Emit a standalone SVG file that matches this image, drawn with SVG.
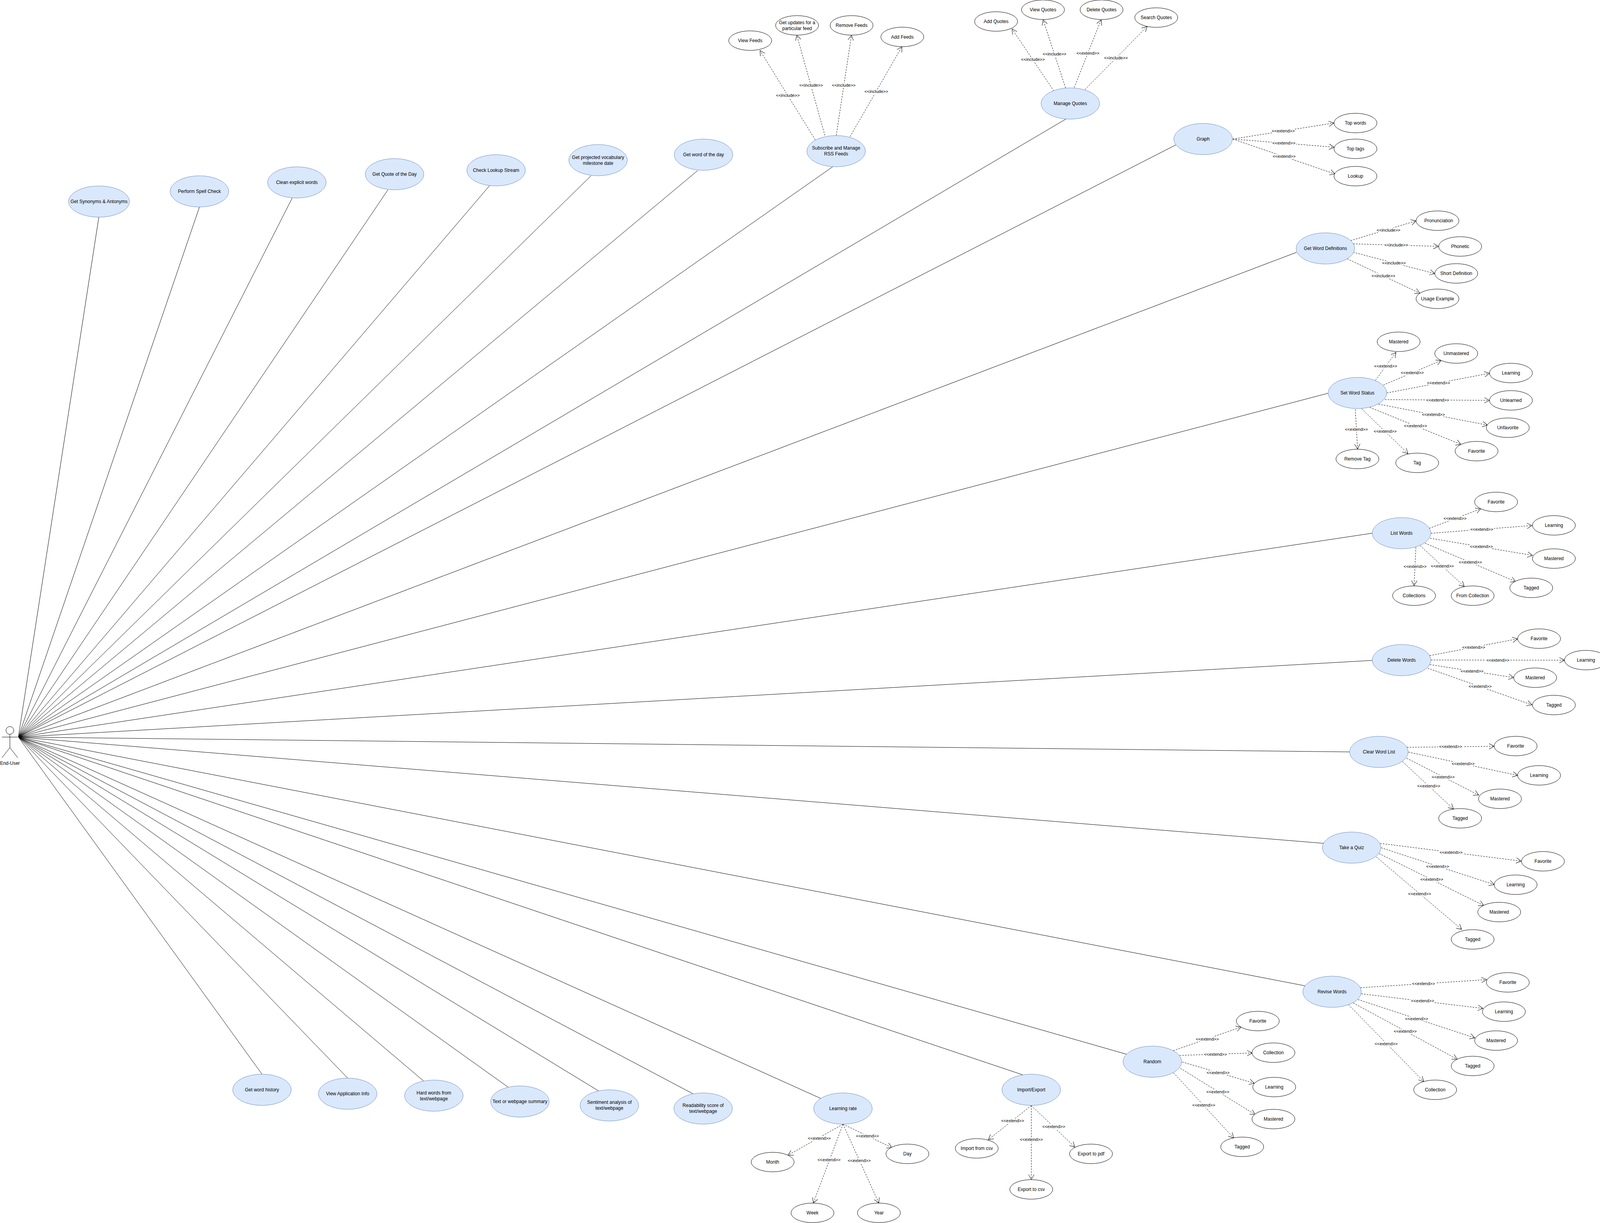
<svg xmlns="http://www.w3.org/2000/svg" width="4116" height="3131" viewBox="0 0 4116 3131">
<style>
text{font-family:"Liberation Sans",Arial,sans-serif;font-size:12px;fill:#000;text-anchor:middle}
.uc{fill:#dae8fc;stroke:#6c8ebf;stroke-width:1}
.sub{fill:#fff;stroke:#000;stroke-width:1}
.assoc{fill:none;stroke:#000;stroke-width:1}
.dep{fill:none;stroke:#000;stroke-width:1;stroke-dasharray:4 3;marker-end:url(#open)}
.lbl{font-size:11px;stroke:#fff;stroke-width:6px;paint-order:stroke;stroke-linejoin:round}
</style>
<defs>
<marker id="open" markerUnits="userSpaceOnUse" markerWidth="30" markerHeight="30" refX="20" refY="15" orient="auto">
<path d="M7,8 L20,15 L7,22" fill="none" stroke="#000" stroke-width="1" stroke-dasharray="none"/>
</marker>
</defs>
<rect width="4116" height="3131" fill="#fff"/>
<g id="connectors">
<g id="associations" class="assoc">
<line x1="47" y1="1887" x2="253" y2="556"/>
<line x1="47" y1="1887" x2="510.6" y2="530"/>
<line x1="47" y1="1887" x2="748" y2="507"/>
<line x1="47" y1="1887" x2="993" y2="486"/>
<line x1="47" y1="1887" x2="1253.6" y2="475"/>
<line x1="47" y1="1887" x2="1513" y2="450"/>
<line x1="47" y1="1887" x2="1786" y2="436.7"/>
<line x1="47" y1="1887" x2="2131.6" y2="427"/>
<line x1="47" y1="1887" x2="2730" y2="304"/>
<line x1="47" y1="1887" x2="3010" y2="371"/>
<line x1="47" y1="1887" x2="3319" y2="646"/>
<line x1="47" y1="1887" x2="3400.4" y2="1006.6"/>
<line x1="47" y1="1887" x2="3513" y2="1365"/>
<line x1="47" y1="1887" x2="3513" y2="1690.7"/>
<line x1="47" y1="1887" x2="3455.6" y2="1925"/>
<line x1="47" y1="1887" x2="3388.5" y2="2159"/>
<line x1="47" y1="1887" x2="3342" y2="2524"/>
<line x1="47" y1="1887" x2="2884" y2="2699"/>
<line x1="47" y1="1887" x2="2619" y2="2752"/>
<line x1="47" y1="1887" x2="2101" y2="2812"/>
<line x1="47" y1="1887" x2="1775" y2="2800.7"/>
<line x1="47" y1="1887" x2="1532.6" y2="2793"/>
<line x1="47" y1="1887" x2="1301.8" y2="2784"/>
<line x1="47" y1="1887" x2="1085" y2="2768"/>
<line x1="47" y1="1887" x2="890" y2="2760"/>
<line x1="47" y1="1887" x2="670.7" y2="2750"/>
</g>
<g id="dependencies">
<line class="dep" x1="2087" y1="358" x2="1945.7" y2="129.3"/>
<line class="dep" x1="2111.7" y1="346.7" x2="2039.8" y2="90"/>
<line class="dep" x1="2140.8" y1="346.7" x2="2179.8" y2="90"/>
<line class="dep" x1="2176" y1="350" x2="2309" y2="119.3"/>
<line class="dep" x1="2698" y1="233" x2="2590.8" y2="74"/>
<line class="dep" x1="2727.8" y1="225" x2="2670.4" y2="50.7"/>
<line class="dep" x1="2750" y1="224" x2="2818.9" y2="50.7"/>
<line class="dep" x1="2777.5" y1="229.3" x2="2936.7" y2="67.7"/>
<line class="dep" x1="3155.7" y1="356" x2="3414.5" y2="315"/>
<line class="dep" x1="3155.7" y1="356" x2="3415.5" y2="376.8"/>
<line class="dep" x1="3155.7" y1="356" x2="3417.6" y2="445.4"/>
<line class="dep" x1="3457.7" y1="616" x2="3625.3" y2="565.4"/>
<line class="dep" x1="3464.4" y1="624.3" x2="3682.5" y2="630.7"/>
<line class="dep" x1="3464" y1="645.7" x2="3673" y2="700.4"/>
<line class="dep" x1="3448.8" y1="662.5" x2="3635" y2="750.7"/>
<line class="dep" x1="3521.2" y1="973.5" x2="3573.7" y2="902"/>
<line class="dep" x1="3541.5" y1="985.7" x2="3689.3" y2="923"/>
<line class="dep" x1="3550.3" y1="1006" x2="3813" y2="955.6"/>
<line class="dep" x1="3545.6" y1="1023" x2="3813" y2="1025"/>
<line class="dep" x1="3529" y1="1034.7" x2="3807.9" y2="1088.3"/>
<line class="dep" x1="3506.6" y1="1042.9" x2="3740.3" y2="1137.8"/>
<line class="dep" x1="3485.8" y1="1046.4" x2="3604.4" y2="1161.2"/>
<line class="dep" x1="3469.6" y1="1048" x2="3475.4" y2="1149.5"/>
<line class="dep" x1="3659" y1="1352.6" x2="3790.7" y2="1302.6"/>
<line class="dep" x1="3663.2" y1="1365.3" x2="3921.9" y2="1345.4"/>
<line class="dep" x1="3661.2" y1="1378" x2="3923.4" y2="1421.9"/>
<line class="dep" x1="3648.1" y1="1390.8" x2="3880.2" y2="1488.8"/>
<line class="dep" x1="3635.7" y1="1396.9" x2="3748.6" y2="1501.5"/>
<line class="dep" x1="3624.7" y1="1401" x2="3620" y2="1499.5"/>
<line class="dep" x1="3660.1" y1="1678.5" x2="3884.9" y2="1635.6"/>
<line class="dep" x1="3663.2" y1="1689.7" x2="4005.1" y2="1690.2"/>
<line class="dep" x1="3660.6" y1="1701.4" x2="3875" y2="1734.6"/>
<line class="dep" x1="3654.9" y1="1710.6" x2="3921.9" y2="1804.5"/>
<line class="dep" x1="3601.8" y1="1913.2" x2="3825.1" y2="1910.6"/>
<line class="dep" x1="3605.5" y1="1925.4" x2="3885.4" y2="1985.1"/>
<line class="dep" x1="3601.3" y1="1941.2" x2="3785.5" y2="2035.6"/>
<line class="dep" x1="3590.4" y1="1949.9" x2="3721" y2="2071.3"/>
<line class="dep" x1="3533.1" y1="2159.1" x2="3894.3" y2="2204.5"/>
<line class="dep" x1="3535.7" y1="2170.3" x2="3825.1" y2="2264.7"/>
<line class="dep" x1="3530.5" y1="2185.1" x2="3798.5" y2="2318.3"/>
<line class="dep" x1="3523.3" y1="2193.8" x2="3742" y2="2379.5"/>
<line class="dep" x1="3482.6" y1="2528.7" x2="3805.6" y2="2508"/>
<line class="dep" x1="3485" y1="2544.2" x2="3796.4" y2="2581.7"/>
<line class="dep" x1="3476.5" y1="2558.9" x2="3775.7" y2="2657.1"/>
<line class="dep" x1="3464.3" y1="2567.7" x2="3730.6" y2="2711.8"/>
<line class="dep" x1="3452" y1="2571.9" x2="3644.9" y2="2769"/>
<line class="dep" x1="3003.6" y1="2689.7" x2="3177.3" y2="2629.4"/>
<line class="dep" x1="3019.6" y1="2702" x2="3205.6" y2="2695.7"/>
<line class="dep" x1="3026.5" y1="2718.8" x2="3211" y2="2773.2"/>
<line class="dep" x1="3021.9" y1="2735" x2="3213.3" y2="2853.5"/>
<line class="dep" x1="3004.3" y1="2746.5" x2="3158.2" y2="2913.5"/>
<line class="dep" x1="2158" y1="2878" x2="2017.1" y2="2957.7"/>
<line class="dep" x1="2158" y1="2878" x2="2082.1" y2="3080"/>
<line class="dep" x1="2158" y1="2878" x2="2249.9" y2="3080"/>
<line class="dep" x1="2158" y1="2878" x2="2283.7" y2="2938.3"/>
<line class="dep" x1="2640.2" y1="2830.3" x2="2529.8" y2="2918"/>
<line class="dep" x1="2640.2" y1="2830.3" x2="2640.2" y2="3020"/>
<line class="dep" x1="2640.2" y1="2830.3" x2="2751.8" y2="2936.7"/>
</g>
<g id="connector-labels">
<text class="lbl" x="2016.8" y="247.7">&lt;&lt;include&gt;&gt;</text>
<text class="lbl" x="2076.5" y="222.3">&lt;&lt;include&gt;&gt;</text>
<text class="lbl" x="2160" y="222.3">&lt;&lt;include&gt;&gt;</text>
<text class="lbl" x="2243.4" y="238.3">&lt;&lt;include&gt;&gt;</text>
<text class="lbl" x="2644.4" y="156.3">&lt;&lt;include&gt;&gt;</text>
<text class="lbl" x="2699.5" y="142.3">&lt;&lt;include&gt;&gt;</text>
<text class="lbl" x="2785" y="140.3">&lt;&lt;extend&gt;&gt;</text>
<text class="lbl" x="2857" y="152.3">&lt;&lt;include&gt;&gt;</text>
<text class="lbl" x="3285" y="339.3">&lt;&lt;extend&gt;&gt;</text>
<text class="lbl" x="3286.7" y="370">&lt;&lt;extend&gt;&gt;</text>
<text class="lbl" x="3287.3" y="404">&lt;&lt;extend&gt;&gt;</text>
<text class="lbl" x="3554.5" y="593.3">&lt;&lt;include&gt;&gt;</text>
<text class="lbl" x="3574.3" y="631.1">&lt;&lt;include&gt;&gt;</text>
<text class="lbl" x="3568.5" y="677.2">&lt;&lt;include&gt;&gt;</text>
<text class="lbl" x="3541.5" y="710">&lt;&lt;include&gt;&gt;</text>
<text class="lbl" x="3547.2" y="941.2">&lt;&lt;extend&gt;&gt;</text>
<text class="lbl" x="3615.4" y="958.1">&lt;&lt;extend&gt;&gt;</text>
<text class="lbl" x="3682.5" y="984.1">&lt;&lt;extend&gt;&gt;</text>
<text class="lbl" x="3680.4" y="1028">&lt;&lt;extend&gt;&gt;</text>
<text class="lbl" x="3669.5" y="1065.2">&lt;&lt;extend&gt;&gt;</text>
<text class="lbl" x="3623.7" y="1093.8">&lt;&lt;extend&gt;&gt;</text>
<text class="lbl" x="3546.1" y="1108.1">&lt;&lt;extend&gt;&gt;</text>
<text class="lbl" x="3472.3" y="1103">&lt;&lt;extend&gt;&gt;</text>
<text class="lbl" x="3724.7" y="1331">&lt;&lt;extend&gt;&gt;</text>
<text class="lbl" x="3793.3" y="1359.1">&lt;&lt;extend&gt;&gt;</text>
<text class="lbl" x="3792.3" y="1403">&lt;&lt;extend&gt;&gt;</text>
<text class="lbl" x="3764.2" y="1443.3">&lt;&lt;extend&gt;&gt;</text>
<text class="lbl" x="3692.4" y="1453">&lt;&lt;extend&gt;&gt;</text>
<text class="lbl" x="3622.6" y="1454">&lt;&lt;extend&gt;&gt;</text>
<text class="lbl" x="3772.5" y="1661">&lt;&lt;extend&gt;&gt;</text>
<text class="lbl" x="3834.5" y="1694.2">&lt;&lt;extend&gt;&gt;</text>
<text class="lbl" x="3768.4" y="1722.3">&lt;&lt;extend&gt;&gt;</text>
<text class="lbl" x="3789.2" y="1761">&lt;&lt;extend&gt;&gt;</text>
<text class="lbl" x="3713.7" y="1915.1">&lt;&lt;extend&gt;&gt;</text>
<text class="lbl" x="3745.5" y="1959">&lt;&lt;extend&gt;&gt;</text>
<text class="lbl" x="3694.5" y="1993.2">&lt;&lt;extend&gt;&gt;</text>
<text class="lbl" x="3657.5" y="2016.1">&lt;&lt;extend&gt;&gt;</text>
<text class="lbl" x="3714.8" y="2186">&lt;&lt;extend&gt;&gt;</text>
<text class="lbl" x="3680.4" y="2222.3">&lt;&lt;extend&gt;&gt;</text>
<text class="lbl" x="3665.3" y="2255.4">&lt;&lt;extend&gt;&gt;</text>
<text class="lbl" x="3634.1" y="2292.2">&lt;&lt;extend&gt;&gt;</text>
<text class="lbl" x="3644.1" y="2521.5">&lt;&lt;extend&gt;&gt;</text>
<text class="lbl" x="3641.8" y="2566">&lt;&lt;extend&gt;&gt;</text>
<text class="lbl" x="3626.5" y="2611.6">&lt;&lt;extend&gt;&gt;</text>
<text class="lbl" x="3597.4" y="2643.6">&lt;&lt;extend&gt;&gt;</text>
<text class="lbl" x="3548.5" y="2675.5">&lt;&lt;extend&gt;&gt;</text>
<text class="lbl" x="3090.8" y="2663.6">&lt;&lt;extend&gt;&gt;</text>
<text class="lbl" x="3111.5" y="2702.5">&lt;&lt;extend&gt;&gt;</text>
<text class="lbl" x="3118.4" y="2749.5">&lt;&lt;extend&gt;&gt;</text>
<text class="lbl" x="3117.6" y="2798.6">&lt;&lt;extend&gt;&gt;</text>
<text class="lbl" x="3081.6" y="2833.3">&lt;&lt;extend&gt;&gt;</text>
<text class="lbl" x="2097.4" y="2917.7">&lt;&lt;extend&gt;&gt;</text>
<text class="lbl" x="2122.3" y="2973.3">&lt;&lt;extend&gt;&gt;</text>
<text class="lbl" x="2199.5" y="2975.3">&lt;&lt;extend&gt;&gt;</text>
<text class="lbl" x="2220.5" y="2911.7">&lt;&lt;extend&gt;&gt;</text>
<text class="lbl" x="2592.3" y="2873.3">&lt;&lt;extend&gt;&gt;</text>
<text class="lbl" x="2640.2" y="2921.3">&lt;&lt;extend&gt;&gt;</text>
<text class="lbl" x="2697.6" y="2888.3">&lt;&lt;extend&gt;&gt;</text>
</g>
</g>
<g id="actor">
<circle cx="25.3" cy="1870" r="10" fill="#fff" stroke="#000"/>
<path d="M25.3,1880V1914M5,1887H45M25.3,1914L5,1940M25.3,1914L45.500,1940" fill="none" stroke="#000"/>
<text x="25.500" y="1958">End-User</text>
</g>
<g id="uc-synonyms"><ellipse class="uc" cx="253.500" cy="516" rx="78" ry="40"/><text x="253.500" y="520">Get Synonyms &amp; Antonyms</text></g>
<g id="uc-spell"><ellipse class="uc" cx="510.600" cy="490" rx="75" ry="40"/><text x="510.600" y="494">Perform Spell Check</text></g>
<g id="uc-clean"><ellipse class="uc" cx="760" cy="467" rx="75" ry="40"/><text x="760" y="471">Clean explicit words</text></g>
<g id="uc-quote"><ellipse class="uc" cx="1010" cy="446" rx="75" ry="40"/><text x="1010" y="450">Get Quote of the Day</text></g>
<g id="uc-lookup"><ellipse class="uc" cx="1270" cy="436" rx="75" ry="40"/><text x="1270" y="440">Check Lookup Stream</text></g>
<g id="uc-projected"><ellipse class="uc" cx="1531" cy="410" rx="75" ry="40"/><text x="1531" y="406.500">Get projected vocabulary</text><text x="1531" y="421.500">milestone date</text></g>
<g id="uc-wotd"><ellipse class="uc" cx="1801" cy="396" rx="75" ry="40"/><text x="1801" y="400">Get word of the day</text></g>
<g id="uc-rss"><ellipse class="uc" cx="2140.500" cy="387" rx="75" ry="40"/><text x="2140.500" y="383">Subscribe and Manage</text><text x="2140.500" y="398">RSS Feeds</text></g>
<g id="sub-view-feeds"><ellipse class="sub" cx="1920.500" cy="104" rx="55" ry="25"/><text x="1920.500" y="108">View Feeds</text></g>
<g id="sub-updates"><ellipse class="sub" cx="2040.500" cy="65" rx="55" ry="25"/><text x="2040.500" y="62">Get updates for a</text><text x="2040.500" y="77">particular feed</text></g>
<g id="sub-remove-feeds"><ellipse class="sub" cx="2180" cy="65" rx="55" ry="25"/><text x="2180" y="69">Remove Feeds</text></g>
<g id="sub-add-feeds"><ellipse class="sub" cx="2310" cy="94.500" rx="55" ry="25"/><text x="2310" y="98.500">Add Feeds</text></g>
<g id="uc-quotes"><ellipse class="uc" cx="2740" cy="265" rx="75" ry="40"/><text x="2740" y="269">Manage Quotes</text></g>
<g id="sub-add-quotes"><ellipse class="sub" cx="2550" cy="55" rx="55" ry="25"/><text x="2550" y="59">Add Quotes</text></g>
<g id="sub-view-quotes"><ellipse class="sub" cx="2670" cy="25" rx="55" ry="25"/><text x="2670" y="29">View Quotes</text></g>
<g id="sub-delete-quotes"><ellipse class="sub" cx="2820" cy="25" rx="55" ry="25"/><text x="2820" y="29">Delete Quotes</text></g>
<g id="sub-search-quotes"><ellipse class="sub" cx="2960" cy="45" rx="55" ry="25"/><text x="2960" y="49">Search Quotes</text></g>
<g id="uc-graph"><ellipse class="uc" cx="3080" cy="356" rx="75" ry="40"/><text x="3080" y="360">Graph</text></g>
<g id="sub-top-words"><ellipse class="sub" cx="3470" cy="315" rx="55" ry="25"/><text x="3470" y="319">Top words</text></g>
<g id="sub-top-tags"><ellipse class="sub" cx="3470" cy="381" rx="55" ry="25"/><text x="3470" y="385">Top tags</text></g>
<g id="sub-lookup"><ellipse class="sub" cx="3470" cy="451" rx="55" ry="25"/><text x="3470" y="455">Lookup</text></g>
<g id="uc-defs"><ellipse class="uc" cx="3393" cy="636" rx="75" ry="40"/><text x="3393" y="640">Get Word Definitions</text></g>
<g id="sub-pron"><ellipse class="sub" cx="3680" cy="565" rx="55" ry="25"/><text x="3683" y="569">Pronunciation</text></g>
<g id="sub-phonetic"><ellipse class="sub" cx="3738" cy="631" rx="55" ry="25"/><text x="3738" y="635">Phonetic</text></g>
<g id="sub-short"><ellipse class="sub" cx="3728" cy="700" rx="55" ry="25"/><text x="3728" y="704">Short Definition</text></g>
<g id="sub-usage"><ellipse class="sub" cx="3680" cy="765" rx="55" ry="25"/><text x="3680" y="769">Usage Example</text></g>
<g id="uc-status"><ellipse class="uc" cx="3475" cy="1006" rx="75" ry="40"/><text x="3475" y="1010">Set Word Status</text></g>
<g id="st-mastered"><ellipse class="sub" cx="3580.500" cy="875" rx="55" ry="25"/><text x="3580.500" y="879">Mastered</text></g>
<g id="st-unmastered"><ellipse class="sub" cx="3728" cy="905" rx="55" ry="25"/><text x="3728" y="909">Unmastered</text></g>
<g id="st-learning"><ellipse class="sub" cx="3868" cy="955" rx="55" ry="25"/><text x="3868" y="959">Learning</text></g>
<g id="st-unlearned"><ellipse class="sub" cx="3868" cy="1025" rx="55" ry="25"/><text x="3868" y="1029">Unlearned</text></g>
<g id="st-unfavorite"><ellipse class="sub" cx="3860" cy="1095" rx="55" ry="25"/><text x="3860" y="1099">Unfavorite</text></g>
<g id="st-favorite"><ellipse class="sub" cx="3780" cy="1155" rx="55" ry="25"/><text x="3780" y="1159">Favorite</text></g>
<g id="st-tag"><ellipse class="sub" cx="3628" cy="1185" rx="55" ry="25"/><text x="3628" y="1189">Tag</text></g>
<g id="st-remove-tag"><ellipse class="sub" cx="3475" cy="1175" rx="55" ry="25"/><text x="3475" y="1179">Remove Tag</text></g>
<g id="uc-list"><ellipse class="uc" cx="3588" cy="1365" rx="75" ry="40"/><text x="3588" y="1369">List Words</text></g>
<g id="ls-favorite"><ellipse class="sub" cx="3830" cy="1285" rx="55" ry="25"/><text x="3830" y="1289">Favorite</text></g>
<g id="ls-learning"><ellipse class="sub" cx="3978" cy="1345" rx="55" ry="25"/><text x="3978" y="1349">Learning</text></g>
<g id="ls-mastered"><ellipse class="sub" cx="3978" cy="1430" rx="55" ry="25"/><text x="3978" y="1434">Mastered</text></g>
<g id="ls-tagged"><ellipse class="sub" cx="3920" cy="1505" rx="55" ry="25"/><text x="3920" y="1509">Tagged</text></g>
<g id="ls-collections"><ellipse class="sub" cx="3620" cy="1525" rx="55" ry="25"/><text x="3620" y="1529">Collections</text></g>
<g id="ls-from"><ellipse class="sub" cx="3770" cy="1525" rx="55" ry="25"/><text x="3770" y="1529">From Collection</text></g>
<g id="uc-delete"><ellipse class="uc" cx="3588" cy="1690" rx="75" ry="40"/><text x="3588" y="1694">Delete Words</text></g>
<g id="dl-favorite"><ellipse class="sub" cx="3940" cy="1635" rx="55" ry="25"/><text x="3940" y="1639">Favorite</text></g>
<g id="dl-learning"><ellipse class="sub" cx="4060" cy="1690" rx="55" ry="25"/><text x="4060" y="1694">Learning</text></g>
<g id="dl-mastered"><ellipse class="sub" cx="3930" cy="1735" rx="55" ry="25"/><text x="3930" y="1739">Mastered</text></g>
<g id="dl-tagged"><ellipse class="sub" cx="3978" cy="1805" rx="55" ry="25"/><text x="3978" y="1809">Tagged</text></g>
<g id="uc-clear"><ellipse class="uc" cx="3530" cy="1925" rx="75" ry="40"/><text x="3530" y="1929">Clear Word List</text></g>
<g id="cl-favorite"><ellipse class="sub" cx="3880" cy="1910" rx="55" ry="25"/><text x="3880" y="1914">Favorite</text></g>
<g id="cl-learning"><ellipse class="sub" cx="3940" cy="1985" rx="55" ry="25"/><text x="3940" y="1989">Learning</text></g>
<g id="cl-mastered"><ellipse class="sub" cx="3840" cy="2045" rx="55" ry="25"/><text x="3840" y="2049">Mastered</text></g>
<g id="cl-tagged"><ellipse class="sub" cx="3738" cy="2095" rx="55" ry="25"/><text x="3738" y="2099">Tagged</text></g>
<g id="uc-quiz"><ellipse class="uc" cx="3460" cy="2170" rx="75" ry="40"/><text x="3460" y="2174">Take a Quiz</text></g>
<g id="qz-favorite"><ellipse class="sub" cx="3950" cy="2205" rx="55" ry="25"/><text x="3950" y="2209">Favorite</text></g>
<g id="qz-learning"><ellipse class="sub" cx="3880" cy="2265" rx="55" ry="25"/><text x="3880" y="2269">Learning</text></g>
<g id="qz-mastered"><ellipse class="sub" cx="3838" cy="2335" rx="55" ry="25"/><text x="3838" y="2339">Mastered</text></g>
<g id="qz-tagged"><ellipse class="sub" cx="3770" cy="2405" rx="55" ry="25"/><text x="3770" y="2409">Tagged</text></g>
<g id="uc-revise"><ellipse class="uc" cx="3410" cy="2539" rx="75" ry="40"/><text x="3410" y="2543">Revise Words</text></g>
<g id="rv-favorite"><ellipse class="sub" cx="3860" cy="2515" rx="55" ry="25"/><text x="3860" y="2519">Favorite</text></g>
<g id="rv-learning"><ellipse class="sub" cx="3850" cy="2590" rx="55" ry="25"/><text x="3850" y="2594">Learning</text></g>
<g id="rv-mastered"><ellipse class="sub" cx="3830" cy="2664" rx="55" ry="25"/><text x="3830" y="2668">Mastered</text></g>
<g id="rv-tagged"><ellipse class="sub" cx="3770" cy="2729" rx="55" ry="25"/><text x="3770" y="2733">Tagged</text></g>
<g id="rv-collection"><ellipse class="sub" cx="3674" cy="2790" rx="55" ry="25"/><text x="3674" y="2794">Collection</text></g>
<g id="uc-random"><ellipse class="uc" cx="2950" cy="2718" rx="75" ry="40"/><text x="2950" y="2722">Random</text></g>
<g id="rd-favorite"><ellipse class="sub" cx="3220" cy="2614" rx="55" ry="25"/><text x="3220" y="2618">Favorite</text></g>
<g id="rd-collection"><ellipse class="sub" cx="3260" cy="2695" rx="55" ry="25"/><text x="3260" y="2699">Collection</text></g>
<g id="rd-learning"><ellipse class="sub" cx="3262" cy="2783" rx="55" ry="25"/><text x="3262" y="2787">Learning</text></g>
<g id="rd-mastered"><ellipse class="sub" cx="3260" cy="2865" rx="55" ry="25"/><text x="3260" y="2869">Mastered</text></g>
<g id="rd-tagged"><ellipse class="sub" cx="3180" cy="2936" rx="55" ry="25"/><text x="3180" y="2940">Tagged</text></g>
<g id="uc-import"><ellipse class="uc" cx="2640" cy="2790" rx="75" ry="40"/><text x="2640" y="2794">Import/Export</text></g>
<g id="ie-import"><ellipse class="sub" cx="2500.500" cy="2940" rx="55" ry="25"/><text x="2500.500" y="2944">Import from csv</text></g>
<g id="ie-csv"><ellipse class="sub" cx="2640" cy="3045" rx="55" ry="25"/><text x="2640" y="3049">Export to csv</text></g>
<g id="ie-pdf"><ellipse class="sub" cx="2793" cy="2954" rx="55" ry="25"/><text x="2793" y="2958">Export to pdf</text></g>
<g id="uc-rate"><ellipse class="uc" cx="2158" cy="2838" rx="75" ry="40"/><text x="2158" y="2842">Learning rate</text></g>
<g id="lr-month"><ellipse class="sub" cx="1978" cy="2975" rx="55" ry="25"/><text x="1978" y="2979">Month</text></g>
<g id="lr-week"><ellipse class="sub" cx="2080" cy="3105" rx="55" ry="25"/><text x="2080" y="3109">Week</text></g>
<g id="lr-year"><ellipse class="sub" cx="2250" cy="3105" rx="55" ry="25"/><text x="2250" y="3109">Year</text></g>
<g id="lr-day"><ellipse class="sub" cx="2323" cy="2954" rx="55" ry="25"/><text x="2323" y="2958">Day</text></g>
<g id="uc-readability"><ellipse class="uc" cx="1800" cy="2838" rx="75" ry="40"/><text x="1800" y="2834">Readability score of</text><text x="1800" y="2849">text/webpage</text></g>
<g id="uc-sentiment"><ellipse class="uc" cx="1560" cy="2830" rx="75" ry="40"/><text x="1560" y="2826">Sentiment analysis of</text><text x="1560" y="2841">text/webpage</text></g>
<g id="uc-summary"><ellipse class="uc" cx="1331" cy="2820" rx="75" ry="40"/><text x="1331" y="2824">Text or webpage summary</text></g>
<g id="uc-hard"><ellipse class="uc" cx="1110.700" cy="2805" rx="75" ry="40"/><text x="1110.700" y="2802">Hard words from</text><text x="1110.700" y="2817">text/webpage</text></g>
<g id="uc-info"><ellipse class="uc" cx="890" cy="2800" rx="75" ry="40"/><text x="890" y="2804">View Application Info</text></g>
<g id="uc-history"><ellipse class="uc" cx="670.700" cy="2790" rx="75" ry="40"/><text x="670.700" y="2794">Get word history</text></g>
</svg>
